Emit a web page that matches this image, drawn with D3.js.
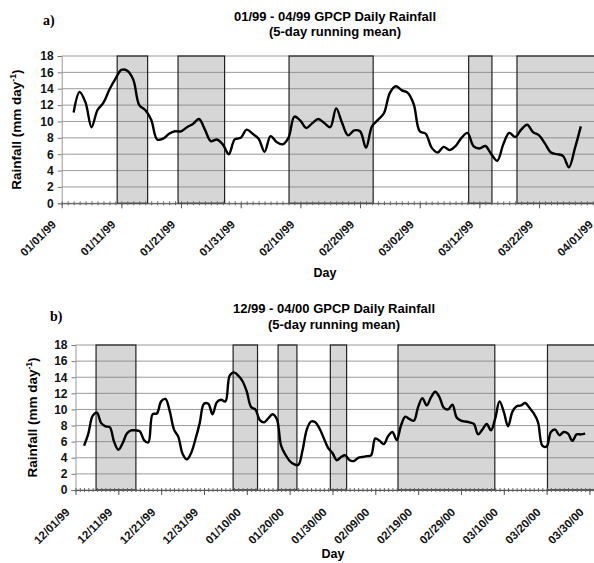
<!DOCTYPE html>
<html>
<head>
<meta charset="utf-8">
<script src="https://cdnjs.cloudflare.com/ajax/libs/d3/7.8.5/d3.min.js"></script>
<style>
body { margin: 0; background: #fff; }
svg { display: block; font-family: "Liberation Sans", Arial, sans-serif; }
</style>
</head>
<body>
<svg id="chart" width="594" height="563"></svg>
<script>
// panel a) 01/99 - 04/99, first value is day 2 (01/03/99)
const startA = 2
const rainA = [11.1, 13.6, 12.3, 9.3, 11.4, 12.3, 13.9, 15.2, 16.3, 16.2,
  15.1, 12.0, 11.4, 10.2, 7.8, 7.9, 8.5, 8.8, 8.8, 9.3,
  9.7, 10.3, 9.0, 7.6, 7.8, 7.2, 6.0, 7.8, 8.0, 9.0,
  8.5, 7.9, 6.3, 8.2, 7.5, 7.2, 8.0, 10.6, 10.1, 9.2,
  9.8, 10.3, 9.8, 9.3, 11.6, 9.8, 8.3, 8.9, 8.8, 6.8,
  9.4, 10.2, 11.0, 13.5, 14.3, 13.8, 13.5, 12.1, 8.8, 8.5,
  6.8, 6.2, 6.9, 6.5, 7.0, 8.0, 8.6, 7.0, 6.7, 7.0,
  6.0, 5.2, 7.2, 8.6, 8.1, 9.0, 9.6, 8.7, 8.3, 7.3,
  6.2, 6.0, 5.8, 4.4, 6.7, 9.4]
const ticksA = ['01/01/99', '01/11/99', '01/21/99', '01/31/99', '02/10/99',
  '02/20/99', '03/02/99', '03/12/99', '03/22/99', '04/01/99']
// shaded periods, in days from the first tick
const shadeA = [[9.3, 14.4], [19.5, 27.3], [38.1, 52.2], [68.2, 72.1], [76.3, 92]]

// panel b) 12/99 - 04/00, first value is day 2 (12/03/99)
const startB = 2
const rainB = [5.5, 7.0, 9.2, 9.6, 8.3, 7.9, 7.8, 6.0, 5.0, 5.8,
  7.0, 7.4, 7.4, 7.3, 6.2, 5.9, 9.4, 9.5, 11.0, 11.3,
  9.8, 7.5, 6.6, 4.5, 3.8, 4.6, 6.3, 8.3, 10.7, 10.7,
  9.4, 10.9, 11.2, 11.0, 14.2, 14.6, 14.2, 13.5, 12.2, 10.3,
  10.0, 8.7, 8.4, 8.9, 9.4, 8.8, 5.5, 4.4, 3.6, 3.2,
  3.1, 4.9, 7.5, 8.5, 8.4, 7.6, 6.4, 5.2, 4.6, 3.7,
  4.1, 4.3, 3.7, 3.6, 4.0, 4.1, 4.2, 4.3, 6.4, 6.1,
  5.7, 6.7, 7.2, 6.2, 8.0, 9.1, 8.8, 8.6, 10.3, 11.4,
  10.5, 11.5, 12.2, 11.5, 10.2, 10.0, 10.6, 9.0, 8.6, 8.5,
  8.4, 8.2, 6.9, 7.5, 8.2, 7.4, 8.9, 11.0, 9.7, 7.9,
  9.7, 10.4, 10.5, 10.8, 10.2, 9.5, 8.4, 5.5, 5.4, 7.2,
  7.5, 6.8, 7.2, 7.0, 6.1, 6.9, 6.9, 7.0]
const ticksB = ['12/01/99', '12/11/99', '12/21/99', '12/31/99', '01/10/00',
  '01/20/00', '01/30/00', '02/09/00', '02/19/00', '02/29/00',
  '03/10/00', '03/20/00', '03/30/00']
const shadeB = [[4.8, 14.1], [36.8, 42.5], [47.3, 51.7], [59.5, 63.3], [75.3, 97.9], [110.2, 124]]

const yTicks = [0, 2, 4, 6, 8, 10, 12, 14, 16, 18]

let svg = d3.select('#chart')

function panel(p) {
  let g = svg.append('g')
  let xMax = p.ticks.length * 10
  let x = d3.scaleLinear().domain([0, xMax]).range([p.left, p.left + xMax * p.dayW])
  let y = d3.scaleLinear().domain([0, 18]).range([p.bottom, p.top])
  let right = 600

  // box fills first so the grid shows through
  g.selectAll('rect.fill').data(p.shade).enter().append('rect')
    .attr('x', d => x(d[0])).attr('y', y(18))
    .attr('width', d => x(d[1]) - x(d[0])).attr('height', y(0) - y(18))
    .attr('fill', '#d6d6d6')

  g.selectAll('line.grid').data(yTicks).enter().append('line')
    .attr('x1', p.left).attr('x2', right)
    .attr('y1', d => y(d)).attr('y2', d => y(d))
    .attr('stroke', '#808080').attr('stroke-width', 0.8)

  g.selectAll('rect.box').data(p.shade).enter().append('rect')
    .attr('x', d => x(d[0])).attr('y', y(18))
    .attr('width', d => x(d[1]) - x(d[0])).attr('height', y(0) - y(18))
    .attr('fill', 'none').attr('stroke', '#222').attr('stroke-width', 1.2)

  // y axis
  let ya = g.append('g').attr('transform', `translate(${p.left},0)`)
    .call(d3.axisLeft(y).tickValues(yTicks).tickSize(4).tickPadding(4).tickFormat(d3.format('d')))
  ya.select('.domain').attr('stroke', '#999')
  ya.selectAll('.tick line').attr('stroke', '#777')
  ya.selectAll('text').attr('font-size', 12).attr('font-weight', 'bold').attr('fill', '#111')

  // x axis, minor ticks each day and major every 10 days
  let xm = g.append('g').attr('transform', `translate(0,${p.bottom})`)
    .call(d3.axisBottom(x).tickValues(d3.range(0, xMax + 1)).tickSize(2).tickSizeOuter(0).tickFormat(''))
  xm.select('.domain').attr('stroke', '#555')
  xm.selectAll('.tick line').attr('stroke', '#666').attr('y1', -2)
  let xa = g.append('g').attr('transform', `translate(0,${p.bottom})`)
    .call(d3.axisBottom(x).tickValues(p.ticks.map((t, i) => i * 10)).tickSize(5).tickSizeOuter(0).tickFormat(''))
  xa.select('.domain').remove()
  xa.selectAll('.tick line').attr('stroke', '#555')

  g.selectAll('text.xl').data(p.ticks).enter().append('text')
    .attr('transform', (d, i) => `translate(${x(i * 10) - 5},${p.bottom + p.labDy}) rotate(-45)`)
    .attr('text-anchor', 'end')
    .attr('font-size', 11.5).attr('font-weight', 'bold').attr('fill', '#111')
    .text(d => d)

  // the rainfall curve
  let line = d3.line()
    .x((d, i) => x(p.start + i))
    .y(d => y(d))
    .curve(d3.curveCatmullRom.alpha(0.5))
  g.append('path').datum(p.rain)
    .attr('d', line)
    .attr('fill', 'none').attr('stroke', '#000').attr('stroke-width', 2.4)
    .attr('stroke-linejoin', 'round')

  // labels
  g.append('text').attr('x', p.tagX).attr('y', p.tagY)
    .attr('font-family', '"Liberation Serif", "Times New Roman", serif')
    .attr('font-size', 14).attr('font-weight', 'bold').text(p.tag)
  g.append('text').attr('x', p.titleX).attr('y', p.titleY)
    .attr('text-anchor', 'middle').attr('font-size', 13).attr('font-weight', 'bold')
    .text(p.title)
  g.append('text').attr('x', p.titleX).attr('y', p.titleY + 15.5)
    .attr('text-anchor', 'middle').attr('font-size', 13).attr('font-weight', 'bold')
    .text('(5-day running mean)')

  let yt = g.append('text')
    .attr('transform', `translate(${p.yTitleX},${(p.top + p.bottom) / 2}) rotate(-90)`)
    .attr('text-anchor', 'middle').attr('font-size', 13.5).attr('font-weight', 'bold')
  yt.append('tspan').text('Rainfall (mm day')
  yt.append('tspan').attr('font-size', 8.5).attr('dy', -5.5).text('-1')
  yt.append('tspan').attr('dy', 5.5).text(')')

  g.append('text').attr('x', p.dayX).attr('y', p.dayY)
    .attr('text-anchor', 'middle').attr('font-size', 12.5).attr('font-weight', 'bold')
    .text('Day')
}

panel({
  rain: rainA, start: startA, ticks: ticksA, shade: shadeA,
  left: 61.7, dayW: 5.967, top: 56, bottom: 203.3, labDy: 22,
  tag: 'a)', tagX: 43, tagY: 25, titleX: 335, titleY: 20.7,
  title: '01/99 - 04/99 GPCP Daily Rainfall',
  yTitleX: 21, dayX: 325, dayY: 277
})

panel({
  rain: rainB, start: startB, ticks: ticksB, shade: shadeB,
  left: 75.5, dayW: 4.283, top: 345, bottom: 490, labDy: 23,
  tag: 'b)', tagX: 50, tagY: 321, titleX: 334, titleY: 313,
  title: '12/99 - 04/00 GPCP Daily Rainfall',
  yTitleX: 37, dayX: 333, dayY: 558
})
</script>
</body>
</html>
